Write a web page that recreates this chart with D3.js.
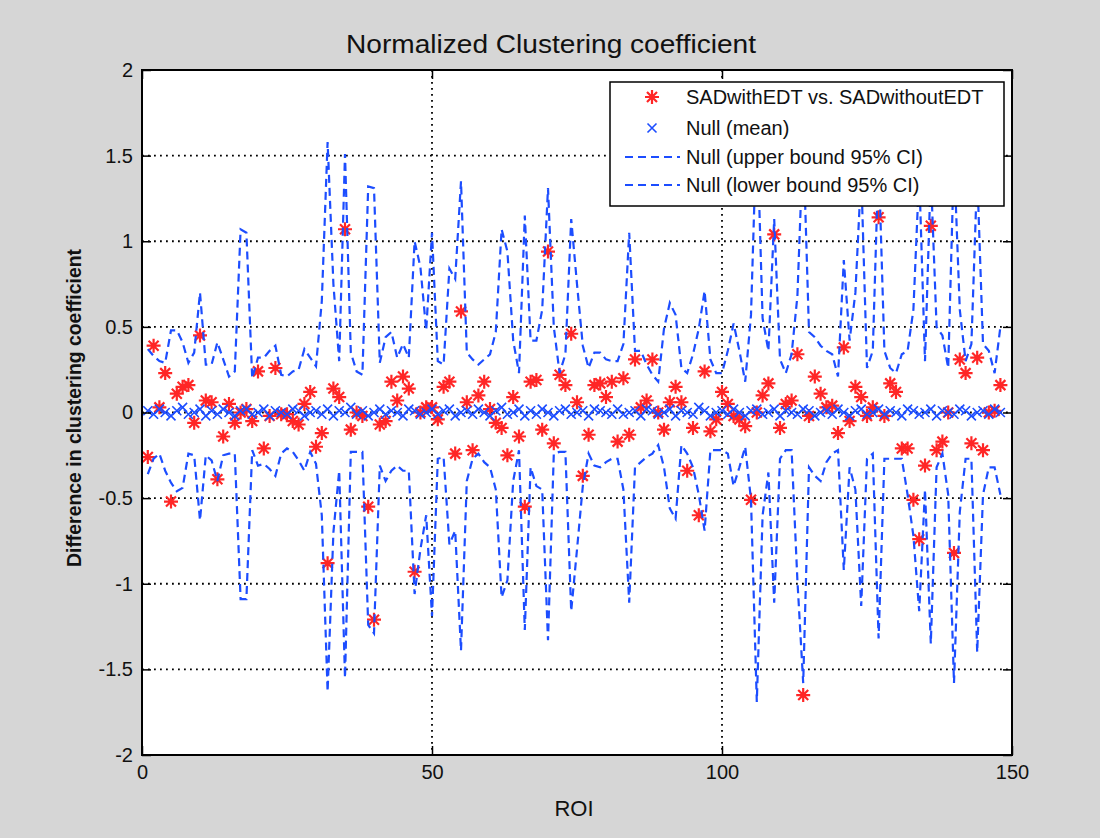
<!DOCTYPE html>
<html>
<head>
<meta charset="utf-8">
<script src="https://cdn.jsdelivr.net/npm/d3@7"></script>
<style>
  body { margin: 0; background: #d6d6d6; }
  svg { display: block; font-family: "Liberation Sans", Arial, Helvetica, sans-serif; }
</style>
</head>
<body>
<svg id="viz" width="1100" height="838"></svg>
<script>
// Normalized clustering coefficient, one value per ROI

var roi = d3.range(1, 149);

var diffValues = [
  -0.26, 0.39, 0.03, 0.23, -0.52, 0.11, 0.15, 0.16, -0.06, 0.45,
  0.07, 0.06, -0.39, -0.14, 0.05, -0.06, 0.00, 0.02, -0.05, 0.24,
  -0.21, -0.02, 0.26, -0.01, -0.01, -0.05, -0.07, 0.05, 0.12, -0.20,
  -0.12, -0.88, 0.14, 0.09, 1.07, -0.10, 0.00, -0.02, -0.55, -1.21,
  -0.07, -0.05, 0.18, 0.07, 0.21, 0.14, -0.93, 0.00, 0.03, 0.03,
  -0.04, 0.15, 0.18, -0.24, 0.59, 0.06, -0.22, 0.10, 0.18, 0.02,
  -0.06, -0.09, -0.25, 0.09, -0.14, -0.55, 0.18, 0.19, -0.10, 0.94,
  -0.18, 0.22, 0.16, 0.46, 0.06, -0.37, -0.13, 0.16, 0.17, 0.09,
  0.18, -0.17, 0.20, -0.13, 0.31, 0.03, 0.07, 0.31, 0.00, -0.10,
  0.06, 0.15, 0.06, -0.34, -0.09, -0.60, 0.24, -0.11, -0.04, 0.12,
  0.05, -0.02, -0.04, -0.08, -0.51, 0.00, 0.10, 0.17, 1.04, -0.09,
  0.05, 0.07, 0.34, -1.65, -0.02, 0.21, 0.11, 0.03, 0.04, -0.12,
  0.38, -0.05, 0.15, 0.09, -0.02, 0.03, 1.14, -0.02, 0.17, 0.12,
  -0.21, -0.21, -0.51, -0.74, -0.31, 1.09, -0.22, -0.17, 0.00, -0.82,
  0.31, 0.23, -0.18, 0.32, -0.22, 0.00, 0.01, 0.16
];

var nullMean = [
  0.01, -0.01, 0.02, 0.00, -0.02, 0.01, 0.03, -0.01, 0.00, 0.02,
  -0.02, 0.01, -0.01, 0.02, 0.00, -0.02, 0.01, 0.02, -0.01, 0.00,
  0.02, -0.02, 0.01, 0.00, -0.01, 0.02, 0.01, -0.02, 0.00, 0.01,
  -0.01, 0.02, -0.02, 0.01, 0.00, 0.03, -0.01, 0.01, -0.02, 0.00,
  0.02, -0.01, 0.01, 0.00, -0.02, 0.02, 0.01, -0.01, 0.00, 0.02,
  -0.01, 0.01, 0.02, -0.02, 0.00, 0.01, -0.01, 0.02, 0.00, -0.02,
  0.01, 0.03, -0.01, 0.00, 0.02, -0.02, 0.01, -0.01, 0.02, 0.00,
  -0.02, 0.01, 0.02, -0.01, 0.00, 0.01, -0.02, 0.02, 0.01, 0.00,
  -0.01, 0.02, -0.01, 0.00, 0.01, -0.02, 0.02, 0.01, -0.01, 0.00,
  0.02, -0.02, 0.01, 0.00, -0.01, 0.03, 0.01, -0.02, 0.00, 0.01,
  -0.01, 0.02, 0.00, -0.02, 0.01, 0.02, -0.01, 0.00, 0.02, -0.02,
  0.01, 0.00, -0.01, 0.02, 0.01, -0.02, 0.00, 0.01, -0.01, 0.02,
  0.00, -0.02, 0.01, 0.02, -0.01, 0.00, 0.02, -0.01, 0.01, 0.00,
  -0.02, 0.02, 0.01, -0.01, 0.00, 0.02, -0.02, 0.01, 0.00, -0.01,
  0.02, 0.01, -0.02, 0.00, 0.01, -0.01, 0.02, 0.00
];

var nullUpper = [
  0.37, 0.33, 0.30, 0.29, 0.48, 0.48, 0.41, 0.29, 0.35, 0.70,
  0.28, 0.28, 0.41, 0.31, 0.21, 0.24, 1.07, 1.05, 0.20, 0.32,
  0.32, 0.36, 0.39, 0.22, 0.21, 0.24, 0.25, 0.37, 0.32, 0.27,
  0.65, 1.58, 0.75, 0.30, 1.51, 0.35, 0.24, 0.22, 1.32, 1.31,
  0.29, 0.44, 0.47, 0.32, 0.40, 0.32, 1.00, 0.85, 0.48, 1.05,
  0.30, 0.28, 0.84, 0.78, 1.35, 0.35, 0.31, 0.28, 0.31, 0.34,
  0.47, 1.07, 0.94, 0.42, 0.23, 1.15, 0.42, 0.42, 0.60, 1.31,
  0.50, 0.23, 0.34, 1.13, 0.75, 0.39, 0.26, 0.35, 0.35, 0.31,
  0.30, 0.30, 0.40, 1.05, 0.36, 0.36, 0.28, 0.22, 0.18, 0.49,
  0.64, 0.57, 0.26, 0.23, 0.34, 0.49, 0.71, 0.31, 0.23, 0.23,
  0.36, 0.52, 0.36, 0.18, 0.57, 1.70, 0.55, 0.36, 1.13, 0.31,
  0.23, 0.34, 0.68, 1.60, 0.47, 0.44, 0.39, 0.36, 0.34, 0.21,
  0.89, 0.42, 0.70, 1.40, 0.26, 0.36, 1.50, 0.36, 0.26, 0.23,
  0.34, 0.36, 0.60, 1.40, 0.30, 1.40, 0.50, 0.45, 0.26, 1.50,
  0.60, 0.30, 0.40, 1.40, 0.40, 0.36, 0.23, 0.50
];

var nullLower = [
  -0.36, -0.27, -0.24, -0.34, -0.41, -0.46, -0.44, -0.24, -0.25, -0.63,
  -0.25, -0.28, -0.40, -0.25, -0.24, -0.24, -1.09, -1.09, -0.22, -0.31,
  -0.30, -0.33, -0.37, -0.24, -0.21, -0.23, -0.28, -0.34, -0.23, -0.30,
  -0.60, -1.63, -0.70, -0.34, -1.55, -0.23, -0.23, -0.23, -1.24, -1.29,
  -0.31, -0.40, -0.34, -0.31, -0.34, -0.34, -1.06, -0.80, -0.60, -1.19,
  -0.27, -0.26, -0.77, -0.69, -1.39, -0.40, -0.27, -0.24, -0.29, -0.32,
  -0.45, -1.08, -0.98, -0.40, -0.22, -1.27, -0.32, -0.43, -0.45, -1.33,
  -0.24, -0.23, -0.23, -1.16, -0.80, -0.43, -0.24, -0.31, -0.32, -0.29,
  -0.27, -0.27, -0.45, -1.11, -0.32, -0.29, -0.26, -0.24, -0.19, -0.32,
  -0.56, -0.62, -0.19, -0.24, -0.32, -0.48, -0.69, -0.22, -0.22, -0.22,
  -0.24, -0.43, -0.32, -0.20, -0.51, -1.69, -0.60, -0.35, -1.11, -0.27,
  -0.22, -0.22, -0.98, -1.58, -0.32, -0.37, -0.40, -0.29, -0.24, -0.22,
  -0.92, -0.32, -0.45, -1.13, -0.27, -0.24, -1.32, -0.27, -0.27, -0.27,
  -0.27, -0.48, -0.72, -1.16, -0.45, -1.35, -0.32, -0.24, -0.48, -1.58,
  -0.58, -0.27, -0.27, -1.40, -0.48, -0.32, -0.32, -0.48
];

var xTicks = [0, 50, 100, 150];
var yTicks = [-2, -1.5, -1, -0.5, 0, 0.5, 1, 1.5, 2];
var yTickLabels = ["-2", "-1.5", "-1", "-0.5", "0", "0.5", "1", "1.5", "2"];
var legendLabels = [
  "SADwithEDT vs. SADwithoutEDT",
  "Null (mean)",
  "Null (upper bound 95% CI)",
  "Null (lower bound 95% CI)"
];

var svg = d3.select("#viz");
var width = +svg.attr("width");
var height = +svg.attr("height");

var plotLeft = 142, plotRight = 1012, plotTop = 70, plotBottom = 755;
var red = "#ff2626", blue = "#1c4dff";

var x = d3.scaleLinear().domain([0, 150]).range([plotLeft, plotRight]);
var y = d3.scaleLinear().domain([-2, 2]).range([plotBottom, plotTop]);

svg.append("rect")
  .attr("width", width).attr("height", height)
  .attr("fill", "#d6d6d6");

svg.append("defs").append("clipPath").attr("id", "plotclip")
  .append("rect")
  .attr("x", plotLeft).attr("y", plotTop)
  .attr("width", plotRight - plotLeft).attr("height", plotBottom - plotTop);

// axes box
svg.append("rect")
  .attr("x", plotLeft).attr("y", plotTop)
  .attr("width", plotRight - plotLeft).attr("height", plotBottom - plotTop)
  .attr("fill", "#fff");

// dotted grid
var grid = svg.append("g").attr("class", "grid");
grid.selectAll("line.h")
  .data(yTicks.filter(d => d > -2 && d < 2))
  .enter().append("line")
  .attr("class", "h")
  .attr("x1", plotLeft).attr("x2", plotRight)
  .attr("y1", d => y(d)).attr("y2", d => y(d));
grid.selectAll("line.v")
  .data(xTicks.filter(d => d > 0 && d < 150))
  .enter().append("line")
  .attr("class", "v")
  .attr("x1", d => x(d)).attr("x2", d => x(d))
  .attr("y1", plotTop).attr("y2", plotBottom);
grid.selectAll("line")
  .attr("stroke", "#000")
  .attr("stroke-width", 1.8)
  .attr("stroke-dasharray", "1.8,4.2");

var plot = svg.append("g").attr("clip-path", "url(#plotclip)");

var starPath = "M-7,0H7M0,-7V7M-5,-5L5,5M-5,5L5,-5";
var crossPath = "M-4.5,-4.5L4.5,4.5M-4.5,4.5L4.5,-4.5";

// red stars
plot.append("g")
  .selectAll("path")
  .data(diffValues)
  .enter().append("path")
  .attr("d", starPath)
  .attr("transform", (d, i) => `translate(${x(roi[i])},${y(d)})`)
  .attr("stroke", red)
  .attr("stroke-width", 2.2)
  .attr("fill", "none");

// null mean crosses
plot.append("g")
  .selectAll("path")
  .data(nullMean)
  .enter().append("path")
  .attr("d", crossPath)
  .attr("transform", (d, i) => `translate(${x(roi[i])},${y(d)})`)
  .attr("stroke", blue)
  .attr("stroke-width", 1.6)
  .attr("fill", "none");

var line = d3.line()
  .x((d, i) => x(roi[i]))
  .y(d => y(d));

[nullUpper, nullLower].forEach(series => {
  plot.append("path")
    .datum(series)
    .attr("d", line)
    .attr("fill", "none")
    .attr("stroke", blue)
    .attr("stroke-width", 2.2)
    .attr("stroke-dasharray", "8,5");
});

// axes with inward ticks
var yAxis = d3.axisLeft(y)
  .tickValues(yTicks)
  .tickFormat((d, i) => yTickLabels[i])
  .tickSizeInner(-9).tickSizeOuter(0).tickPadding(9);
var xAxis = d3.axisBottom(x)
  .tickValues(xTicks)
  .tickFormat(d3.format("d"))
  .tickSizeInner(-9).tickSizeOuter(0).tickPadding(10);

svg.append("g")
  .attr("transform", `translate(${plotLeft},0)`)
  .call(yAxis);
svg.append("g")
  .attr("transform", `translate(0,${plotBottom})`)
  .call(xAxis);
svg.append("g")
  .attr("transform", `translate(${plotRight},0)`)
  .call(d3.axisRight(y).tickValues(yTicks).tickFormat("").tickSizeInner(-9).tickSizeOuter(0));
svg.append("g")
  .attr("transform", `translate(0,${plotTop})`)
  .call(d3.axisTop(x).tickValues(xTicks).tickFormat("").tickSizeInner(-9).tickSizeOuter(0));

svg.selectAll(".domain").remove();
svg.selectAll(".tick line").attr("stroke", "#000").attr("stroke-width", 1.5);
svg.selectAll(".tick text")
  .attr("fill", "#111")
  .style("font-size", "20px")
  .style("font-family", "'Liberation Sans', Arial, sans-serif");

svg.append("rect")
  .attr("x", plotLeft).attr("y", plotTop)
  .attr("width", plotRight - plotLeft).attr("height", plotBottom - plotTop)
  .attr("fill", "none")
  .attr("stroke", "#000")
  .attr("stroke-width", 2);

// legend
var legend = svg.append("g").attr("id", "legend");
legend.append("rect")
  .attr("x", 610).attr("y", 82)
  .attr("width", 394).attr("height", 124)
  .attr("fill", "#fff")
  .attr("stroke", "#000")
  .attr("stroke-width", 1.5);

var rowY = [97, 128, 157, 185];
legend.append("path")
  .attr("d", starPath)
  .attr("transform", `translate(652,${rowY[0]})`)
  .attr("stroke", red).attr("stroke-width", 2.2).attr("fill", "none");
legend.append("path")
  .attr("d", crossPath)
  .attr("transform", `translate(652,${rowY[1]})`)
  .attr("stroke", blue).attr("stroke-width", 1.6).attr("fill", "none");
[2, 3].forEach(r => {
  legend.append("line")
    .attr("x1", 625).attr("x2", 680)
    .attr("y1", rowY[r]).attr("y2", rowY[r])
    .attr("stroke", blue).attr("stroke-width", 2.2)
    .attr("stroke-dasharray", "8,5");
});
legend.selectAll("text")
  .data(legendLabels)
  .enter().append("text")
  .attr("x", 686)
  .attr("y", (d, i) => rowY[i] + 7)
  .attr("font-size", 20)
  .attr("fill", "#111")
  .text(d => d);

// titles
svg.append("text")
  .attr("x", 346).attr("y", 53)
  .attr("font-size", 26)
  .attr("fill", "#111")
  .attr("textLength", 410)
  .attr("lengthAdjust", "spacingAndGlyphs")
  .text("Normalized Clustering coefficient");

svg.append("text")
  .attr("x", 574).attr("y", 816)
  .attr("text-anchor", "middle")
  .attr("font-size", 22)
  .attr("fill", "#111")
  .text("ROI");

svg.append("text")
  .attr("transform", "translate(81,408) rotate(-90)")
  .attr("text-anchor", "middle")
  .attr("font-size", 20)
  .attr("font-weight", "bold")
  .attr("fill", "#111")
  .attr("textLength", 318)
  .attr("lengthAdjust", "spacingAndGlyphs")
  .text("Difference in clustering coefficient");
</script>
</body>
</html>
